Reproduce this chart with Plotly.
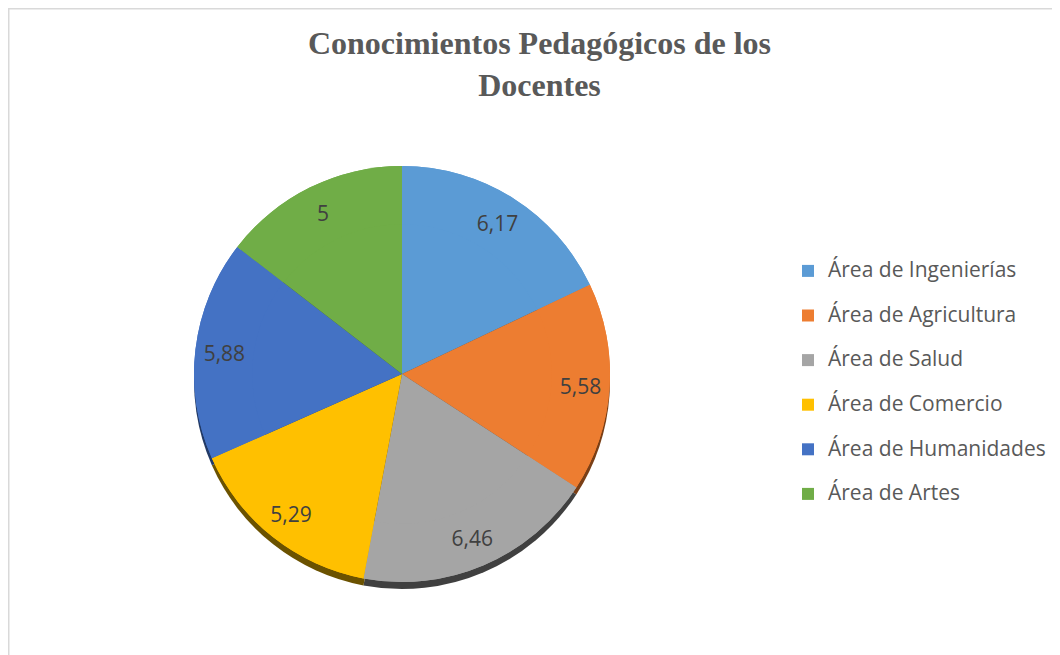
import plotly.graph_objects as go

categories = ["Área de Ingenierías", "Área de Agricultura", "Área de Salud",
              "Área de Comercio", "Área de Humanidades", "Área de Artes"]
values = [6.17, 5.58, 6.46, 5.29, 5.88, 5.0]
colors = ["#5B9BD5", "#ED7D31", "#A5A5A5", "#FFC000", "#4472C4", "#70AD47"]
shadow_colors = ["#2f5677", "#7a3f16", "#404040", "#6b5200", "#223a66", "#3a5c25"]
title_text = "Conocimientos Pedagógicos de los<br>Docentes"

W, H = 1060, 655
cx, cy, r = 394, 366, 208


def dom(cx_px, cy_px, rad):
    return dict(x=[(cx_px - rad) / W, (cx_px + rad) / W],
                y=[(H - cy_px - rad) / H, (H - cy_px + rad) / H])


label_text = [("%g" % v).replace(".", ",") for v in values]
legend_labels = [f"<span style='font-size:21px'>{c}</span><br>&nbsp;" for c in categories]

fig = go.Figure()
# shadow (3D rim)
fig.add_trace(go.Pie(labels=legend_labels, values=values, sort=False, direction="clockwise",
                     marker=dict(colors=shadow_colors, line=dict(width=0)),
                     textinfo="none", hoverinfo="skip", showlegend=False,
                     domain=dom(cx, cy + 7, r)))
# full pie body
fig.add_trace(go.Pie(labels=legend_labels, values=values, sort=False, direction="clockwise",
                     marker=dict(colors=colors, line=dict(width=0)),
                     textinfo="none", hoverinfo="skip", showlegend=False,
                     domain=dom(cx, cy, r)))
# ring on top carrying the labels and legend
fig.add_trace(go.Pie(labels=legend_labels, values=values, sort=False, direction="clockwise",
                     hole=0.72,
                     marker=dict(colors=colors, line=dict(width=0)),
                     text=label_text, textinfo="text", textposition="inside",
                     insidetextorientation="horizontal",
                     textfont=dict(family="Open Sans, sans-serif", size=21, color="#404040"),
                     showlegend=True,
                     domain=dom(cx, cy, r)))

fig.update_layout(
    width=W, height=H,
    margin=dict(l=0, r=0, t=0, b=0),
    paper_bgcolor="white", plot_bgcolor="white",
    title=dict(text=title_text, x=531.5 / W, xanchor="center", y=1 - 46 / H, yanchor="top",
               font=dict(family="Liberation Serif, Times New Roman, serif", size=32,
                         color="#595959", weight="bold")),
    legend=dict(x=780 / W, xanchor="left", y=1 - 246 / H, yanchor="top",
                font=dict(family="Open Sans, sans-serif", size=16, color="#595959"),
                valign="top", traceorder="normal", itemclick=False),
    shapes=[dict(type="rect", xref="paper", yref="paper",
                 x0=0.75 / W, x1=1 + 5 / W, y0=-5 / H, y1=1 - 0.75 / H,
                 line=dict(color="#d9d9d9", width=1.5))],
)

fig.write_html("out.html")
